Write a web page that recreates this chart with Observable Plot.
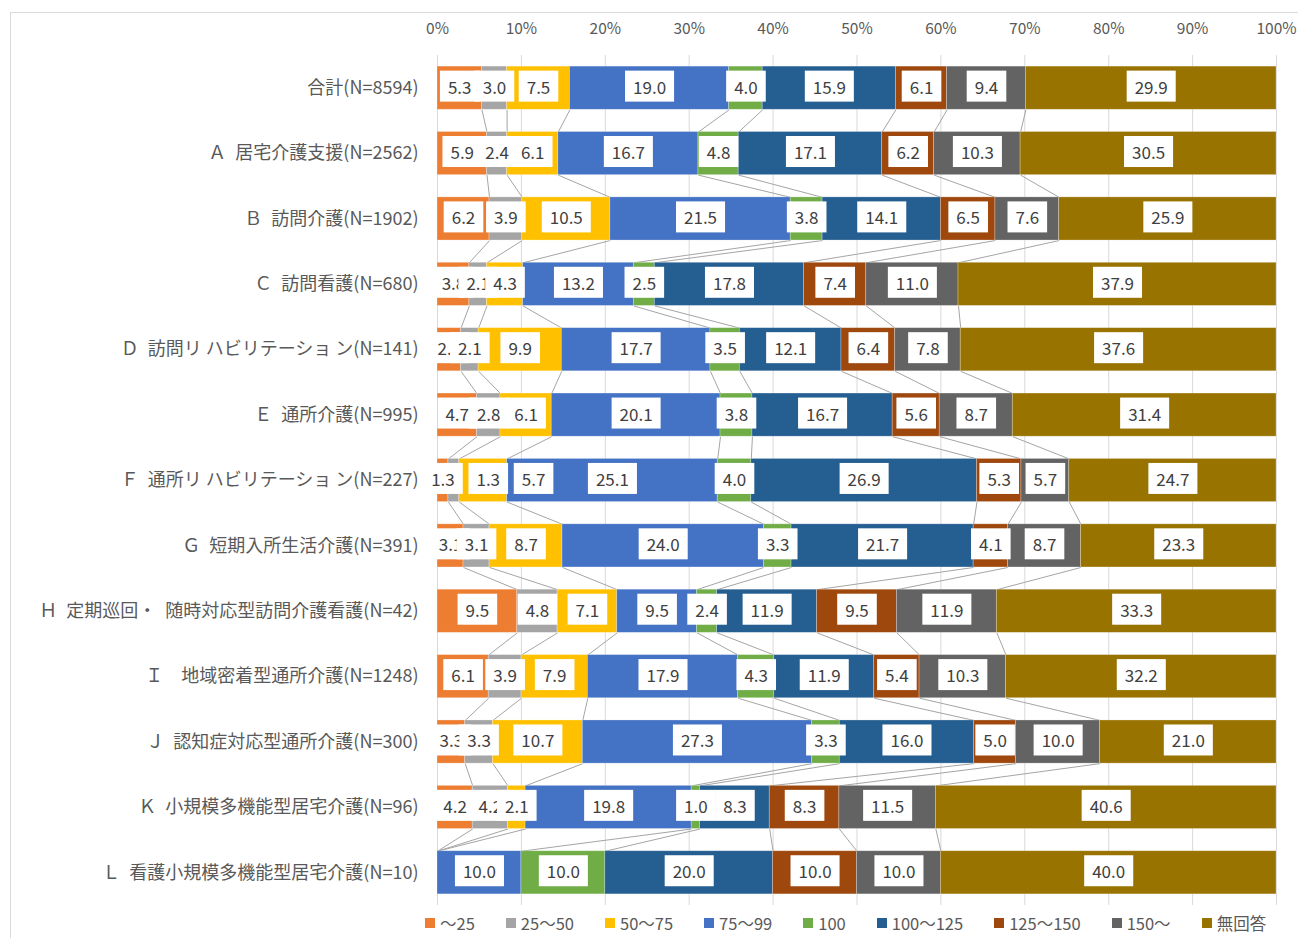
<!DOCTYPE html>
<html>
<head>
<meta charset="utf-8">
<script src="https://cdn.jsdelivr.net/npm/d3@7"></script>
<script src="https://cdn.jsdelivr.net/npm/@observablehq/plot@0.6"></script>
<style>
  html, body { margin: 0; padding: 0; background: #fff; }
  body { font-family: "Noto Sans CJK JP", "Noto Sans", sans-serif; width: 1298px; height: 938px; overflow: hidden; position: relative; }
  #frame { position: absolute; left: 10px; top: 12px; width: 1300px; height: 940px; border-left: 1px solid #d9d9d9; border-top: 1px solid #d9d9d9; }
  #chart { position: absolute; left: 0; top: 0; }
  #legend { position: absolute; left: 425px; top: 911px; display: flex; gap: 31px; align-items: center; font-size: 16.5px; color: #595959; }
  #legend .item { display: flex; align-items: center; gap: 5px; white-space: nowrap; }
  #legend .sw { width: 10px; height: 10px; display: inline-block; }
</style>
</head>
<body>
<div id="frame"></div>
<div id="chart"></div>
<div id="legend"></div>
<script>
const categories = [
  "合計(N=8594)",
  "Ａ\u2002居宅介護支援(N=2562)",
  "Ｂ\u2002訪問介護(N=1902)",
  "Ｃ\u2002訪問看護(N=680)",
  "Ｄ\u2002訪問リ ハビリテーショ ン(N=141)",
  "Ｅ\u2002通所介護(N=995)",
  "Ｆ\u2002通所リ ハビリテーショ ン(N=227)",
  "Ｇ\u2002短期入所生活介護(N=391)",
  "Ｈ\u2002定期巡回・\u2002随時対応型訪問介護看護(N=42)",
  "Ｉ\u3000地域密着型通所介護(N=1248)",
  "Ｊ\u2002認知症対応型通所介護(N=300)",
  "Ｋ\u2002小規模多機能型居宅介護(N=96)",
  "Ｌ\u2002看護小規模多機能型居宅介護(N=10)"
];
const seriesNames = ["～25", "25～50", "50～75", "75～99", "100", "100～125", "125～150", "150～", "無回答"];
const seriesColors = ["#ED7D31", "#A5A5A5", "#FFC000", "#4472C4", "#70AD47", "#255E91", "#9E480E", "#636363", "#997300"];

const s_under25  = [5.3, 5.9, 6.2, 3.8, 2.8, 4.7, 1.3, 3.1, 9.5, 6.1, 3.3, 4.2, 0];
const s_25_50    = [3.0, 2.4, 3.9, 2.1, 2.1, 2.8, 1.3, 3.1, 4.8, 3.9, 3.3, 4.2, 0];
const s_50_75    = [7.5, 6.1, 10.5, 4.3, 9.9, 6.1, 5.7, 8.7, 7.1, 7.9, 10.7, 2.1, 0];
const s_75_99    = [19.0, 16.7, 21.5, 13.2, 17.7, 20.1, 25.1, 24.0, 9.5, 17.9, 27.3, 19.8, 10.0];
const s_100      = [4.0, 4.8, 3.8, 2.5, 3.5, 3.8, 4.0, 3.3, 2.4, 4.3, 3.3, 1.0, 10.0];
const s_100_125  = [15.9, 17.1, 14.1, 17.8, 12.1, 16.7, 26.9, 21.7, 11.9, 11.9, 16.0, 8.3, 20.0];
const s_125_150  = [6.1, 6.2, 6.5, 7.4, 6.4, 5.6, 5.3, 4.1, 9.5, 5.4, 5.0, 8.3, 10.0];
const s_150plus  = [9.4, 10.3, 7.6, 11.0, 7.8, 8.7, 5.7, 8.7, 11.9, 10.3, 10.0, 11.5, 10.0];
const s_noanswer = [29.9, 30.5, 25.9, 37.9, 37.6, 31.4, 24.7, 23.3, 33.3, 32.2, 21.0, 40.6, 40.0];
const seriesValues = [s_under25, s_25_50, s_50_75, s_75_99, s_100, s_100_125, s_125_150, s_150plus, s_noanswer];
const xTicks = [0, 10, 20, 30, 40, 50, 60, 70, 80, 90, 100];

// Build normalized stacked segments (100% stacked)
const HALF = 0.33;
const MIN_GAP = 1.8;   // labels closer than this (in %) are spread apart
const SPREAD = 5.4;    // spacing used when spreading crowded labels (in %)
const segs = [];
const ends = categories.map(() => []);
categories.forEach((cat, i) => {
  const total = d3.sum(seriesValues, s => s[i]);
  let acc = 0;
  let prevLabel = -Infinity;
  seriesValues.forEach((s, k) => {
    const v = s[i];
    const x1 = acc / total * 100;
    acc += v;
    const x2 = acc / total * 100;
    ends[i][k] = x2;
    let lx = (x1 + x2) / 2;
    if (v > 0) {
      if (lx - prevLabel < MIN_GAP) lx = prevLabel + SPREAD;
      prevLabel = lx;
    }
    segs.push({row: i, k, value: v, x1, x2, xm: lx, y1: i - HALF, y2: i + HALF});
  });
});

const links = [];
for (let k = 0; k < seriesNames.length - 1; k++) {
  for (let i = 0; i < categories.length - 1; i++) {
    links.push({x1: ends[i][k], y1: i + HALF, x2: ends[i + 1][k], y2: i + 1 - HALF});
  }
}

const labelMarks = seriesNames.map((name, k) =>
  Plot.text(segs.filter(d => d.k === k && d.value > 0), {
    x: "xm", y: "row", text: d => d.value.toFixed(1),
    fill: "#404040", fontSize: 17
  })
);

const plot = Plot.plot({
  width: 1298,
  height: 908,
  marginLeft: 437,
  marginRight: 22,
  marginTop: 55,
  marginBottom: 3,
  style: {fontFamily: '"Noto Sans CJK JP", "Noto Sans", sans-serif', color: "#595959", background: "transparent"},
  x: {domain: [0, 100]},
  y: {domain: [-0.5, categories.length - 0.5], reverse: true},
  marks: [
    Plot.gridX(xTicks, {stroke: "#d9d9d9", strokeOpacity: 1, strokeWidth: 1}),
    Plot.axisX(xTicks, {anchor: "top", tickSize: 0, tickPadding: 22, tickFormat: d => d + "%", fontSize: 15.5, label: null}),
    Plot.axisY(d3.range(categories.length), {tickSize: 0, tickPadding: 19, tickFormat: i => categories[i], fontSize: 18, label: null}),
    Plot.link(links, {x1: "x1", y1: "y1", x2: "x2", y2: "y2", stroke: "#a5a5a5", strokeWidth: 1}),
    Plot.rect(segs.filter(d => d.value > 0), {
      x1: "x1", x2: "x2", y1: "y1", y2: "y2",
      fill: d => seriesColors[d.k], stroke: "#ffffff", strokeOpacity: 0.35, strokeWidth: 0.75
    }),
    ...labelMarks
  ]
});
document.getElementById("chart").appendChild(plot);

// White boxes behind data labels
const svgNS = "http://www.w3.org/2000/svg";
plot.querySelectorAll('g[aria-label="text"] text').forEach(t => {
  const b = t.getBBox();
  const r = document.createElementNS(svgNS, "rect");
  const padX = 8, h = 31;
  const cy = b.y + b.height / 2;
  r.setAttribute("x", b.x - padX);
  r.setAttribute("y", cy - h / 2);
  r.setAttribute("width", b.width + padX * 2);
  r.setAttribute("height", h);
  r.setAttribute("fill", "#ffffff");
  const tr = t.getAttribute("transform");
  if (tr) r.setAttribute("transform", tr);
  t.parentNode.insertBefore(r, t);
});

// Legend
const legend = document.getElementById("legend");
seriesNames.forEach((name, k) => {
  const item = document.createElement("div");
  item.className = "item";
  const sw = document.createElement("span");
  sw.className = "sw";
  sw.style.background = seriesColors[k];
  const tx = document.createElement("span");
  tx.textContent = name;
  item.appendChild(sw);
  item.appendChild(tx);
  legend.appendChild(item);
});
</script>
</body>
</html>
